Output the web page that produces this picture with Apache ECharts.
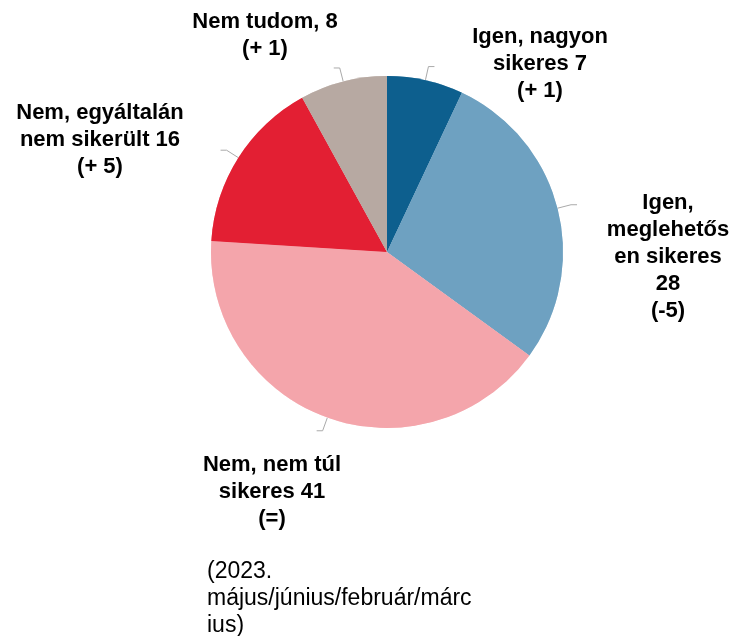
<!DOCTYPE html>
<html>
<head>
<meta charset="utf-8">
<script src="https://cdn.jsdelivr.net/npm/echarts@6/dist/echarts.min.js"></script>
<style>
  html, body { margin: 0; padding: 0; background: #fff; }
  #chart { width: 738px; height: 636px; }
</style>
</head>
<body>
<div id="chart"></div>
<script>
// adatok
var categories = ['Igen, nagyon sikeres', 'Igen, meglehetősen sikeres', 'Nem, nem túl sikeres', 'Nem, egyáltalán nem sikerült', 'Nem tudom'];
var values = [7, 28, 41, 16, 8];
var changes = ['(+ 1)', '(-5)', '(=)', '(+ 5)', '(+ 1)'];
// a címkék sortörése úgy, ahogy az eredetin ({v} = érték, {c} = változás)
var labelTemplates = [
  'Igen, nagyon\nsikeres {v}\n{c}',
  'Igen,\nmeglehetős\nen sikeres\n{v}\n{c}',
  'Nem, nem túl\nsikeres {v}\n{c}',
  'Nem, egyáltalán\nnem sikerült {v}\n{c}',
  'Nem tudom, {v}\n{c}'
];
var colors = ['#0d5f8e', '#6ea1c1', '#f4a5ab', '#e31f33', '#b7a9a2'];
var note = '(2023.\nmájus/június/február/márc\nius)';

// címkék helye (középpont)
var labelPos = [[540, 64], [668, 257], [272, 492], [100, 140], [265, 35]];

var data = categories.map(function (c, i) {
  return { name: c, value: values[i], itemStyle: { color: colors[i] } };
});

var myChart = echarts.init(document.getElementById('chart'));
var option = {
  backgroundColor: '#fff',
  animation: false,
  series: [
    {
      // szeletek + rövid vezetővonalak
      type: 'pie',
      center: [387, 252],
      radius: 176,
      startAngle: 90,
      clockwise: true,
      avoidLabelOverlap: false,
      silent: true,
      data: data,
      itemStyle: { borderColor: '#fff', borderWidth: 0.5 },
      label: { show: true, position: 'outside', formatter: ' ', fontSize: 1 },
      labelLine: { show: true, length: 14, length2: 6, smooth: false, lineStyle: { color: '#aaaaaa', width: 1 } }
    },
    {
      // szöveges címkék
      type: 'pie',
      center: [387, 252],
      radius: 176,
      startAngle: 90,
      clockwise: true,
      avoidLabelOverlap: false,
      silent: true,
      data: data,
      itemStyle: { color: 'rgba(0,0,0,0)' },
      label: {
        show: true,
        position: 'outside',
        formatter: function (p) {
          return labelTemplates[p.dataIndex]
            .replace('{v}', values[p.dataIndex])
            .replace('{c}', changes[p.dataIndex]);
        },
        fontFamily: 'Liberation Sans, Arial, sans-serif',
        fontWeight: 'bold',
        fontSize: 22,
        lineHeight: 27,
        color: '#000',
        align: 'center'
      },
      labelLine: { show: false },
      labelLayout: function (p) {
        var pos = labelPos[p.dataIndex];
        return { x: pos[0], y: pos[1], align: 'center', verticalAlign: 'middle' };
      }
    }
  ],
  graphic: [
    {
      type: 'text',
      left: 207,
      top: 558,
      style: {
        text: note,
        font: '23px "Liberation Sans", Arial, sans-serif',
        lineHeight: 27,
        fill: '#000'
      }
    }
  ]
};
myChart.setOption(option);
window.onresize = function () { myChart.resize(); };
</script>
</body>
</html>
